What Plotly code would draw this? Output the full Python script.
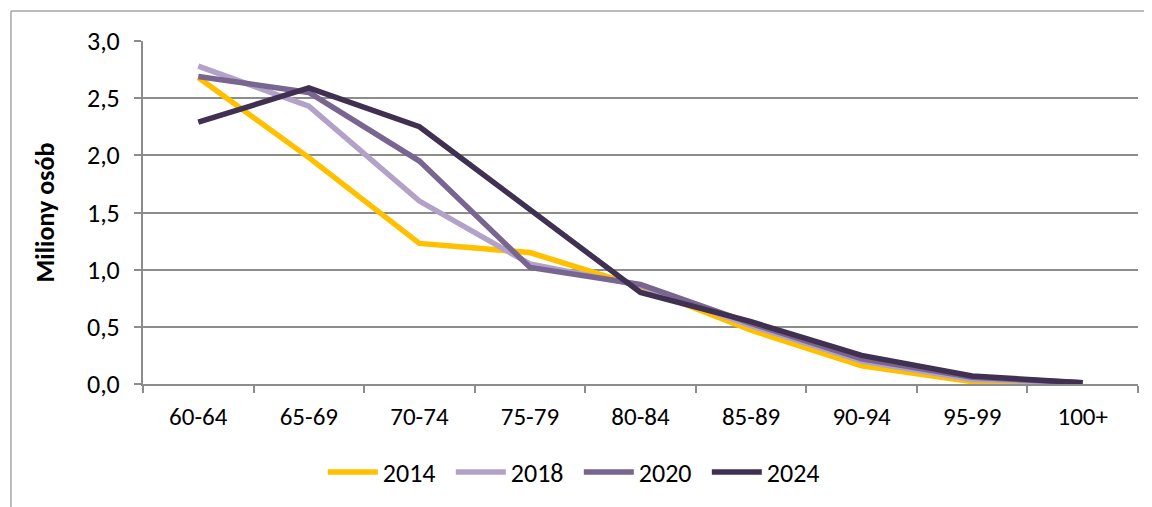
import plotly.graph_objects as go

categories = ["60-64", "65-69", "70-74", "75-79", "80-84", "85-89", "90-94", "95-99", "100+"]
s2014 = [2.68, 1.98, 1.23, 1.15, 0.85, 0.47, 0.16, 0.02, 0.005]
s2018 = [2.78, 2.43, 1.60, 1.05, 0.86, 0.51, 0.20, 0.04, 0.01]
s2020 = [2.69, 2.55, 1.95, 1.02, 0.87, 0.53, 0.22, 0.06, 0.01]
s2024 = [2.29, 2.59, 2.25, 1.52, 0.80, 0.545, 0.25, 0.07, 0.01]
series_names = ["2014", "2018", "2020", "2024"]
colors = ["#FFC000", "#B3A2C7", "#786590", "#403152"]

font_family = "Carlito, Lato, 'Open Sans', sans-serif"

fig = go.Figure()
for name, vals, c in zip(series_names, [s2014, s2018, s2020, s2024], colors):
    fig.add_trace(go.Scatter(x=categories, y=vals, name=name, mode="lines",
                             line=dict(color=c, width=5.5, shape="linear")))

grid = "#8C8C8C"
fig.update_layout(
    width=1152, height=507,
    margin=dict(l=135, r=22, t=33, b=131),
    paper_bgcolor="white", plot_bgcolor="white",
    font=dict(family=font_family, size=25, color="#000000"),
    showlegend=True,
    legend=dict(orientation="h", x=0.438, xanchor="center", y=-0.2566, yanchor="middle",
                font=dict(size=26), itemwidth=50, entrywidth=63, traceorder="normal"),
    xaxis=dict(type="category", range=[-0.5, 8.5], showgrid=False,
               showline=True, linecolor=grid, linewidth=2,
               ticks="outside", ticklen=7, tickcolor=grid, tickwidth=2,
               tickson="boundaries", tickfont=dict(size=25), ticklabelstandoff=9,
               fixedrange=True),
    yaxis=dict(range=[0, 3.0], dtick=0.5, tickformat=".1f",
               showgrid=True, gridcolor=grid, gridwidth=2,
               showline=True, linecolor=grid, linewidth=2,
               ticks="outside", ticklen=7, tickcolor=grid, tickwidth=2,
               tickfont=dict(size=26), zeroline=False, ticklabelstandoff=9,
               title=dict(text="<b>Miliony osób</b>", font=dict(size=26), standoff=25)),
    separators=", ",
    shapes=[
        dict(type="line", xref="paper", yref="paper", x0=-0.1327, x1=1.03, y0=1.0875, y1=1.0875,
             line=dict(color="#A6A6A6", width=1.5)),
        dict(type="line", xref="paper", yref="paper", x0=-0.1327, x1=-0.1327, y0=1.0875, y1=-0.40,
             line=dict(color="#A6A6A6", width=1.5)),
    ],
)

fig.write_html("out.html")
